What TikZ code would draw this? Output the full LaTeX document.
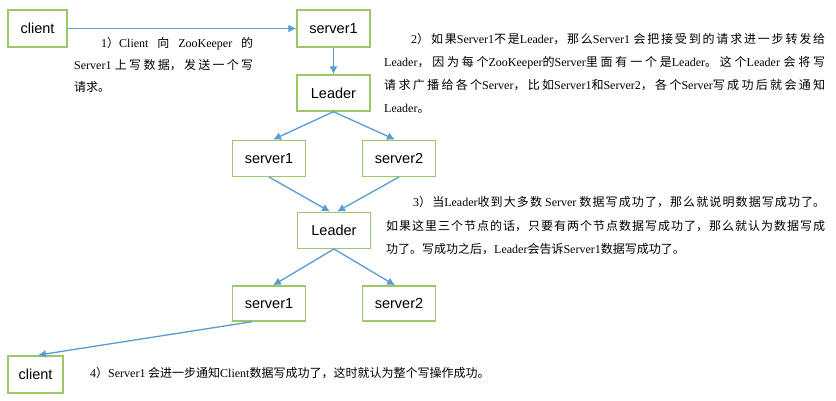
\documentclass[tikz,border=0pt]{standalone}
\usepackage{fontspec}
\setmainfont{Liberation Sans}
\newfontfamily\zhfont{Noto Sans CJK SC}
\newfontfamily\enfont{Liberation Serif}
\newcommand\en[1]{{\enfont #1}}
\usetikzlibrary{arrows.meta,calc}
\XeTeXlinebreaklocale "zh"
\XeTeXlinebreakskip=0pt plus 4pt
\definecolor{boxgreen}{RGB}{155,200,105}
\definecolor{arrowblue}{RGB}{91,155,213}
\tikzset{
  box/.style={draw=boxgreen,line width=1.4pt,fill=white,inner sep=0pt,
    minimum width=73pt,minimum height=36pt,font=\fontsize{14.5}{16}\selectfont},
  conn/.style={draw=arrowblue,line width=1.3pt,-{Latex[length=8pt,width=8pt]}},
  note/.style={inner sep=0pt,anchor=base west,align=justify,
    font=\zhfont\fontsize{12}{23}\selectfont}
}
\begin{document}
\begin{tikzpicture}[x=1pt,y=-1pt]
\useasboundingbox (0,0) rectangle (836,400);
\fill[white] (0,0) rectangle (836,400);
% boxes
\node[box,minimum width=59pt,minimum height=37pt] (c1) at (37.5,28.5) {client};
\node[box,minimum height=37pt] (s1) at (333.5,28.5) {server1};
\node[box] (L1) at (333.5,93) {Leader};
\node[box] (s1b) at (269,158.3) {server1};
\node[box] (s2b) at (399,158.3) {server2};
\node[box] (L2) at (334,230.3) {Leader};
\node[box,minimum height=35pt] (s1c) at (269,303.5) {server1};
\node[box,minimum height=35pt] (s2c) at (399,303.5) {server2};
\node[box,minimum width=55pt,minimum height=37pt] (c2) at (35.5,374.3) {client};
% connectors
\draw[conn] (c1.east) -- (s1.west);
\draw[conn] (s1.south) -- (L1.north);
\draw[conn] (L1.south) -- ($(s1b.north)+(4,0)$);
\draw[conn] (L1.south) -- ($(s2b.north)+(-4,0)$);
\draw[conn] (s1b.south) -- ($(L2.north)+(-4,0)$);
\draw[conn] (s2b.south) -- ($(L2.north)+(3,0)$);
\draw[conn] (L2.south) -- ($(s1c.north)+(4,0)$);
\draw[conn] (L2.south) -- ($(s2c.north)+(-4,0)$);
\draw[conn] ($(s1c.south)+(-17,0)$) -- ($(c2.north)+(2.5,0)$);
% notes
\node[note,text width=179pt,font=\zhfont\fontsize{12}{22}\selectfont] (t1) at (74,47.5)
 {\hspace*{27pt}\en{1}）\en{Client} 向 \en{ZooKeeper} 的\linebreak \en{Server1} 上写数据，发送一个写\linebreak 请求。};
\node[note,text width=441pt] (t2) at (384,43)
 {\hspace*{27pt}\en{2}）如果\en{Server1}不是\en{Leader}，那么\en{Server1} 会把接受到的请求进一步转发给\linebreak \en{Leader}，因为每个\en{ZooKeeper}的\en{Server}里面有一个是\en{Leader}。这个\en{Leader} 会将写\linebreak 请求广播给各个\en{Server}，比如\en{Server1}和\en{Server2}，各个\en{Server}写成功后就会通知\linebreak \en{Leader}。};
\node[note,text width=439pt,font=\zhfont\fontsize{12}{23.5}\selectfont] (t3) at (386,206.5)
 {\hspace*{27pt}\en{3}）当\en{Leader}收到大多数 \en{Server} 数据写成功了，那么就说明数据写成功了。\linebreak 如果这里三个节点的话，只要有两个节点数据写成功了，那么就认为数据写成\linebreak 功了。写成功之后，\en{Leader}会告诉\en{Server1}数据写成功了。};
\node[inner sep=0pt,anchor=base west,font=\zhfont\fontsize{12}{14}\selectfont] (t4) at (90,377.5)
 {\en{4}）\en{Server1} 会进一步通知\en{Client}数据写成功了，这时就认为整个写操作成功。};
\end{tikzpicture}
\end{document}
